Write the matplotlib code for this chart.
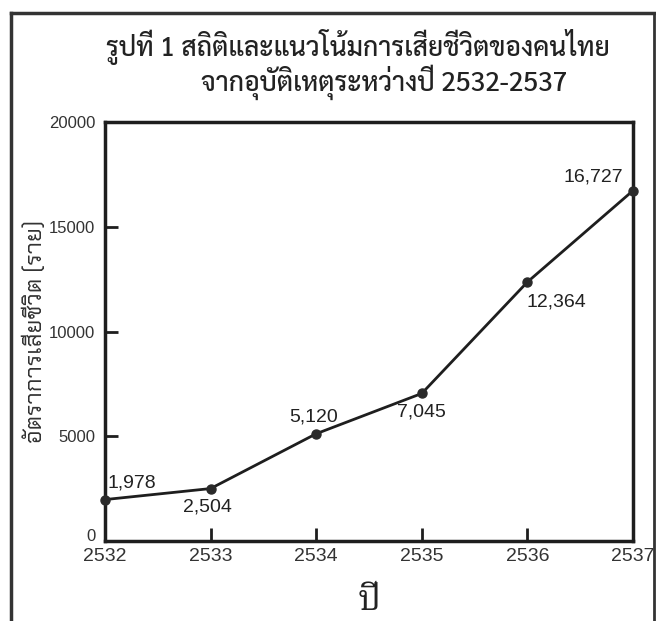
import matplotlib
matplotlib.use('Agg')
import matplotlib.pyplot as plt
from matplotlib.lines import Line2D
import numpy as np
import logging
logging.getLogger('matplotlib.font_manager').setLevel(logging.ERROR)

# ข้อมูลจากรูป
years = [2532, 2533, 2534, 2535, 2536, 2537]
deaths = [1978, 2504, 5120, 7045, 12364, 16727]
# ตำแหน่งป้ายตัวเลข (offset เป็น pt)
lab_off = [(2, 6), (-2, -7), (-2, 6), (0, -7), (-1, -8), (-7, 4)]
lab_ha = ['left', 'center', 'center', 'center', 'left', 'right']
lab_va = ['bottom', 'top', 'bottom', 'top', 'top', 'bottom']

title_font = ['Sarabun', 'Noto Sans Thai Looped', 'Noto Sans Thai', 'DejaVu Sans']
ylab_font = ['Chakra Petch', 'Bai Jamjuree', 'Noto Sans Thai', 'DejaVu Sans']
xlab_font = ['Noto Serif Thai', 'Charm', 'Sarabun', 'Noto Sans Thai', 'DejaVu Sans']
num = ['Liberation Sans', 'DejaVu Sans']

fig = plt.figure(figsize=(6.56, 6.21), dpi=100)
ax = fig.add_axes([0.160, 0.1288, 0.805, 0.6747])

ax.plot(years, deaths, color='#1e1e1e', lw=2.0, marker='o', ms=6.5,
        markerfacecolor='#2a2a2a', markeredgecolor='#2a2a2a', clip_on=False, zorder=5)
for i in range(len(years)):
    ax.annotate(format(deaths[i], ','), (years[i], deaths[i]), xytext=lab_off[i],
                textcoords='offset points', ha=lab_ha[i], va=lab_va[i],
                fontsize=14, family=num, color='#222222')

ax.set_xlim(2532, 2537)
ax.set_ylim(0, 20000)
ax.set_xticks(years)
ax.set_yticks(np.arange(0, 20001, 5000))
ax.tick_params(axis='both', direction='in', length=9.5, width=2, color='#1e1e1e',
               labelcolor='#333333')
ax.tick_params(axis='y', pad=7, labelsize=12)
ax.tick_params(axis='x', pad=5, labelsize=14)
for lbl in ax.get_xticklabels() + ax.get_yticklabels():
    lbl.set_family(num)
# เลข 0 วางเหนือแกน x
ax.yaxis.get_major_ticks()[0].label1.set_va('baseline')
for s in ax.spines.values():
    s.set_linewidth(2.5)
    s.set_color('#1e1e1e')

ax.set_xlabel('ปี', fontsize=26, family=xlab_font, labelpad=12, color='#222222')
ax.set_ylabel('อัตราการเสียชีวิต (ราย)', fontsize=17, family=ylab_font, color='#333333')
ax.yaxis.set_label_coords(-0.110, 0.5)

fig.text(0.545, 0.925, 'รูปที่ 1 สถิติและแนวโน้มการเสียชีวิตของคนไทย',
         ha='center', va='center', fontsize=19, family=title_font, fontweight='medium', color='#222222')
fig.text(0.585, 0.868, 'จากอุบัติเหตุระหว่างปี 2532-2537',
         ha='center', va='center', fontsize=19, family=title_font, fontweight='medium', color='#222222')

# กรอบนอก
fx0, fx1, fy = 11 / 656, 654 / 656, 1 - 13 / 621
fig.add_artist(Line2D([fx0, fx0], [0, fy], color='#333333', lw=2.5))
fig.add_artist(Line2D([fx0, fx1], [fy, fy], color='#333333', lw=2.5))
fig.add_artist(Line2D([fx1, fx1], [0, fy], color='#333333', lw=2.0))

fig.savefig('out.png', dpi=100)
